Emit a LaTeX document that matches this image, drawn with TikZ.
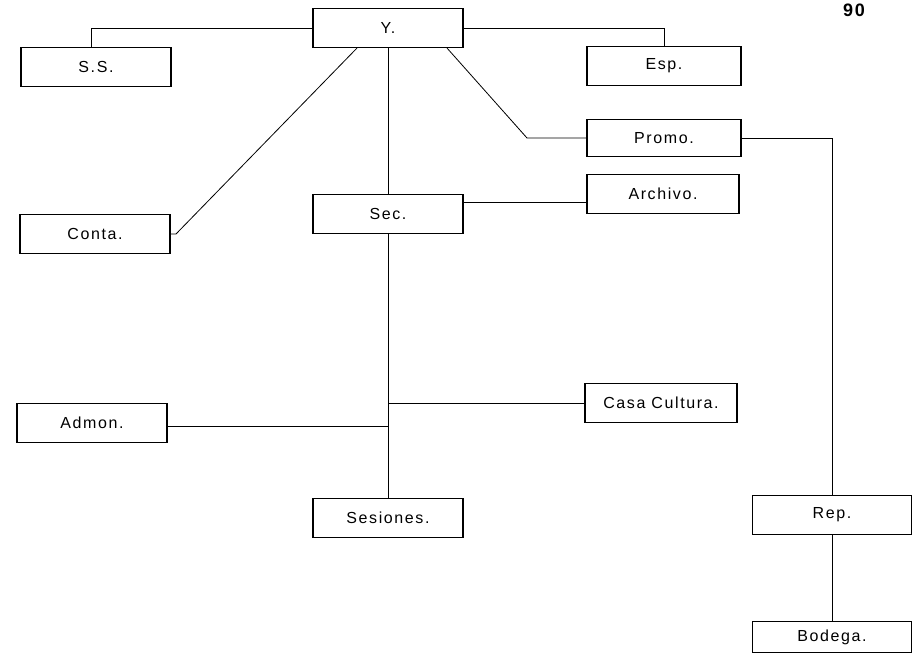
\documentclass[tikz,border=0pt]{standalone}
\usepackage{fontspec}
\setmainfont[LetterSpace=10]{Liberation Sans}
\usepackage{tikz}

\begin{document}
\begin{tikzpicture}[
    x=1pt, y=-1pt,
    unit/.style={draw, line width=1.1pt, minimum width=150pt, minimum height=39pt, inner sep=0pt, font=\fontsize{16}{19}\selectfont},
    conn/.style={draw, line width=0.8pt}
]
\useasboundingbox (0,0) rectangle (918,653);

% page number
\node[font=\fontsize{18}{22}\selectfont\bfseries, inner sep=0pt] (pag) at (854,10) {90};

% top row
\node[unit] (y) at (388,28) {Y.};
\node[unit] (ss) at (96,67) {S.S.};
\node[unit, minimum width=154pt] (esp) at (664,66) {Esp.};
\node[unit, minimum width=154pt, minimum height=37pt] (promo) at (664,138) {Promo.};
\node[unit, minimum width=152pt] (archivo) at (663,194) {Archivo.};

% middle
\node[unit] (conta) at (95,234) {Conta.};
\node[unit] (sec) at (388,214) {Sec.};
\node[unit] (admon) at (92,423) {Admon.};
\node[unit, minimum width=152pt] (casa) at (661,403) {Casa Cultura.};

% bottom
\node[unit] (sesiones) at (388,518) {Sesiones.};
\node[unit, minimum width=159pt] (rep) at (832,515) {Rep.};
\node[unit, minimum width=159pt, minimum height=31pt] (bodega) at (832,637) {Bodega.};

% bend points
\coordinate (pbend) at (527,138);
\coordinate (cbend) at (176,234);

% from Y.
\draw[conn] (y.west) -| ([xshift=-5pt]ss.north);
\draw[conn] (y.east) -| (esp.north);
\draw[conn] ([xshift=59pt]y.south) -- (pbend) -- (promo.west);
\draw[conn] ([xshift=-31pt]y.south) -- (cbend) -- (conta.east);
\draw[conn] (y.south) -- (sec.north);

% from Sec.
\draw[conn] ([yshift=12pt]sec.east) -- ([yshift=-8pt]archivo.west);
\draw[conn] (sec.south) -- (sesiones.north);
\draw[conn] (casa.west) -- (casa.west -| sec.south);
\draw[conn] ([yshift=-3pt]admon.east) -- ([yshift=-3pt]admon.east -| sec.south);

% from Promo.
\draw[conn] (promo.east) -| (rep.north);
\draw[conn] (rep.south) -- (bodega.north);
\end{tikzpicture}
\end{document}
